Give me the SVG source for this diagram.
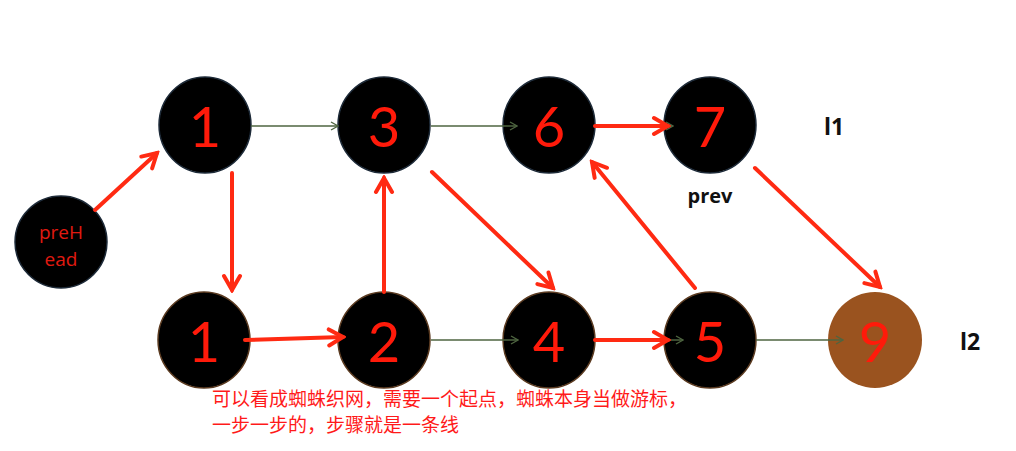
<svg xmlns="http://www.w3.org/2000/svg" width="1016" height="451" viewBox="0 0 1016 451">
<defs>
<style>
.node{fill:#000;stroke:#1d2a38;stroke-width:1.5}
.nodeb{fill:#000;stroke:#5a3a20;stroke-width:1.5}
.num{font-family:Lato,"Liberation Sans",sans-serif;font-size:56px;fill:#ff1a0a;text-anchor:middle}
.lbl{font-family:"Open Sans","Liberation Sans",sans-serif;font-weight:bold;fill:#111;text-anchor:middle}
.red{fill:none;stroke:#ff2a12;stroke-width:4;stroke-linecap:round}
.thin{fill:none;stroke:#4e6540;stroke-width:1.3}
.note{font-family:"Noto Sans CJK SC",sans-serif;font-size:19px;fill:#ff1a1a}
.ph{font-family:"Open Sans","Liberation Sans",sans-serif;font-size:19px;fill:#e01a10;text-anchor:middle}
</style>
<marker id="ar" markerUnits="userSpaceOnUse" viewBox="0 0 22 22" refX="19" refY="11" markerWidth="22" markerHeight="22" orient="auto">
<path d="M5,3 L19,11 L5,19" fill="none" stroke="#ff2a12" stroke-width="4" stroke-linecap="round"/>
</marker>
<marker id="ag" markerUnits="userSpaceOnUse" viewBox="0 0 10 10" refX="9" refY="5" markerWidth="10" markerHeight="10" orient="auto">
<path d="M2,1 L9,5 L2,9" fill="none" stroke="#4e6540" stroke-width="1.3"/>
</marker>
</defs>
<rect width="1016" height="451" fill="#fff"/>
<g id="node-prehead"><circle class="node" cx="61" cy="242" r="46"/>
<text class="ph" x="61" y="239">preH</text>
<text class="ph" x="61" y="266">ead</text></g>
<g id="node-1a"><ellipse class="node" cx="205" cy="125" rx="46" ry="48"/><text class="num" x="205" y="147">1</text></g>
<g id="node-3"><ellipse class="node" cx="384" cy="125" rx="46" ry="48"/><text class="num" x="384" y="147">3</text></g>
<g id="node-6"><ellipse class="node" cx="549" cy="125" rx="46" ry="48"/><text class="num" x="549" y="147">6</text></g>
<g id="node-7"><ellipse class="node" cx="710" cy="125" rx="46" ry="48"/><text class="num" x="710" y="147">7</text></g>
<g id="node-1b"><ellipse class="nodeb" cx="204" cy="340" rx="46" ry="48"/><text class="num" x="204" y="362">1</text></g>
<g id="node-2"><ellipse class="nodeb" cx="384" cy="340" rx="46" ry="48"/><text class="num" x="384" y="362">2</text></g>
<g id="node-4"><ellipse class="nodeb" cx="549" cy="340" rx="46" ry="48"/><text class="num" x="549" y="362">4</text></g>
<g id="node-5"><ellipse class="nodeb" cx="710" cy="340" rx="46" ry="48"/><text class="num" x="710" y="362">5</text></g>
<g id="node-9"><ellipse cx="875" cy="340" rx="47" ry="48" fill="#9a531f"/><text class="num" x="875" y="362">9</text></g>
<g id="connectors">
<line class="thin" x1="251" y1="126" x2="338" y2="126" marker-end="url(#ag)"/>
<line class="thin" x1="431" y1="126" x2="517" y2="126" marker-end="url(#ag)"/>
<line class="thin" x1="596" y1="126" x2="673" y2="126" marker-end="url(#ag)"/>
<line class="thin" x1="431" y1="340" x2="518" y2="340" marker-end="url(#ag)"/>
<line class="thin" x1="596" y1="340" x2="683" y2="340" marker-end="url(#ag)"/>
<line class="thin" x1="756" y1="340" x2="843" y2="340" marker-end="url(#ag)"/>
<line class="red" x1="95" y1="210" x2="157" y2="153" marker-end="url(#ar)"/>
<line class="red" x1="232" y1="173" x2="232" y2="290" marker-end="url(#ar)"/>
<line class="red" x1="245" y1="340" x2="343" y2="337" marker-end="url(#ar)"/>
<line class="red" x1="384" y1="292" x2="384" y2="178" marker-end="url(#ar)"/>
<line class="red" x1="432" y1="172" x2="553" y2="288" marker-end="url(#ar)"/>
<line class="red" x1="595" y1="340" x2="668" y2="340" marker-end="url(#ar)"/>
<line class="red" x1="695" y1="288" x2="592" y2="162" marker-end="url(#ar)"/>
<line class="red" x1="595" y1="126" x2="668" y2="126" marker-end="url(#ar)"/>
<line class="red" x1="755" y1="168" x2="880" y2="287" marker-end="url(#ar)"/>
</g>
<g id="labels">
<text class="lbl" x="710" y="203" font-size="20">prev</text>
<text class="lbl" x="834" y="135" font-size="23">l1</text>
<text class="lbl" x="970" y="350" font-size="23">l2</text>
</g>
<g id="note">
<text class="note" x="212" y="406">可以看成蜘蛛织网，需要一个起点，蜘蛛本身当做游标，</text>
<text class="note" x="212" y="432">一步一步的，步骤就是一条线</text>
</g>
</svg>
